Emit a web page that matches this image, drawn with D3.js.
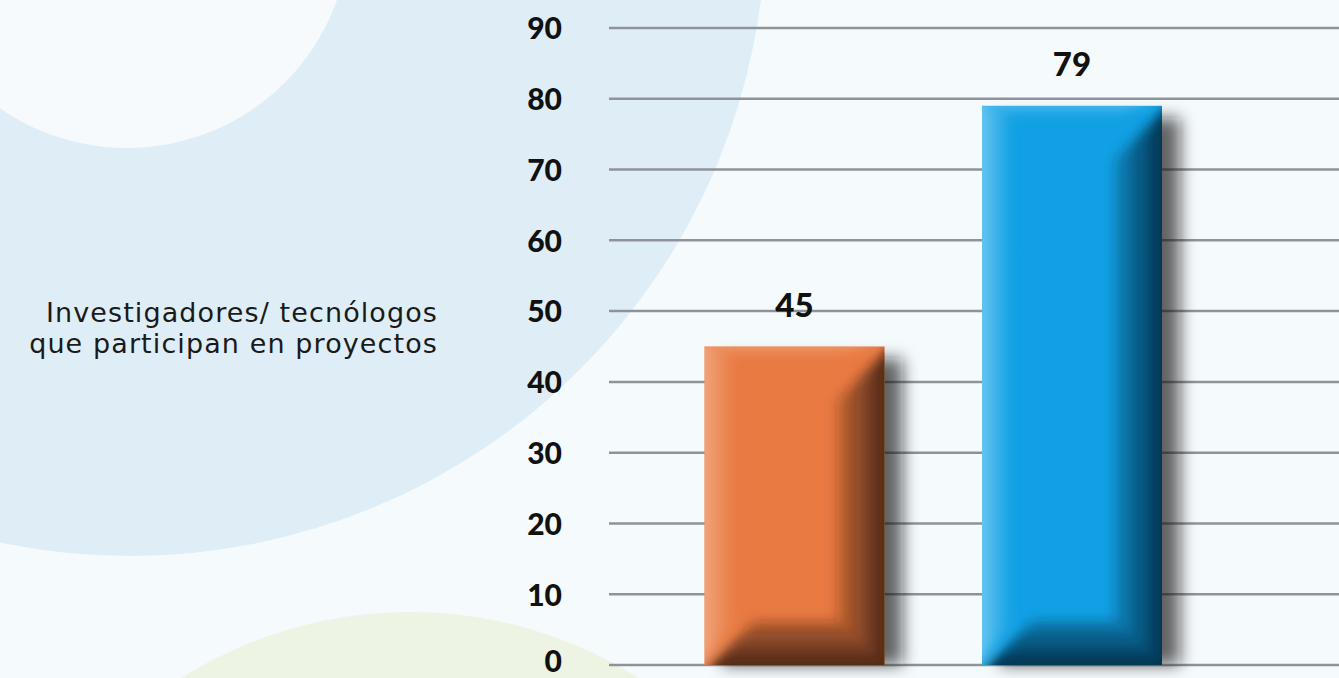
<!DOCTYPE html>
<html>
<head>
<meta charset="utf-8">
<script src="https://cdn.jsdelivr.net/npm/d3@7"></script>
<style>
  html, body { margin: 0; padding: 0; background: #f5fafd; overflow: hidden; }
  svg { display: block; }
</style>
</head>
<body>
<div id="chart"></div>
<script>
// chart data
const categories = ["Serie A", "Serie B"];
const values = [45, 79];
const tickValues = [0, 10, 20, 30, 40, 50, 60, 70, 80, 90];
const yLabelLines = ["Investigadores/ tecnólogos", "que participan en proyectos"];

// bar palettes: base, light edge, dark edge
const barColors = [
    { base: "#e87a42", light: "#f4b08a", dark: "#3a1d0e" },
    { base: "#10a0e3", light: "#7fd0f4", dark: "#05243a" }
];

const width = 1339;
const height = 678;

const svg = d3.select("#chart")
    .append("svg")
    .attr("width", width)
    .attr("height", height);

const defs = svg.append("defs");

// soft blur filters
defs.append("filter").attr("id", "blurShadow")
    .attr("x", "-50%").attr("y", "-20%").attr("width", "200%").attr("height", "140%")
    .append("feGaussianBlur").attr("stdDeviation", 8);
defs.append("filter").attr("id", "blurBevel")
    .attr("x", "-20%").attr("y", "-20%").attr("width", "140%").attr("height", "140%")
    .append("feGaussianBlur").attr("stdDeviation", 6);
defs.append("filter").attr("id", "blurGrid")
    .attr("x", "-5%").attr("y", "-200%").attr("width", "110%").attr("height", "500%")
    .append("feGaussianBlur").attr("stdDeviation", 4);

// Background shapes
const bg = svg.append("g");
bg.append("rect").attr("width", width).attr("height", height).attr("fill", "#f5fafd");
bg.append("circle").attr("cx", 130).attr("cy", -80).attr("r", 636).attr("fill", "#dfeef6");
bg.append("circle").attr("cx", 127).attr("cy", -75).attr("r", 223).attr("fill", "#f6fafd");
bg.append("circle").attr("cx", 410).attr("cy", 1042).attr("r", 430).attr("fill", "#edf4e4");

// Scales
const y = d3.scaleLinear().domain([0, 90]).range([665, 28]);
const x = d3.scalePoint().domain(categories).range([794.5, 1072]);
const barWidth = 180;

// Gridlines
const grid = svg.append("g");
grid.selectAll("line.shade")
    .data(tickValues)
    .enter().append("line")
    .attr("class", "shade")
    .attr("x1", 612).attr("x2", width)
    .attr("y1", d => y(d) - 6).attr("y2", d => y(d) - 6)
    .attr("stroke", "#000").attr("stroke-opacity", 0.06).attr("stroke-width", 8)
    .attr("filter", "url(#blurGrid)");
grid.selectAll("line.main")
    .data(tickValues)
    .enter().append("line")
    .attr("class", "main")
    .attr("x1", 609).attr("x2", width)
    .attr("y1", d => y(d)).attr("y2", d => y(d))
    .attr("stroke", "#8e9399").attr("stroke-width", 2.5);

// Tick labels through the axis
const axis = svg.append("g")
    .attr("transform", "translate(562,0)")
    .call(d3.axisLeft(y).tickValues(tickValues).tickSize(0).tickPadding(0));
axis.select(".domain").remove();
axis.selectAll("text")
    .attr("font-family", "Lato, 'Open Sans', sans-serif")
    .attr("font-weight", 900)
    .attr("font-size", 30)
    .attr("fill", "#111")
    .attr("dy", d => d === 0 ? "0.2em" : "0.36em");

// Bars
const bars = svg.append("g").selectAll("g")
    .data(values)
    .enter().append("g");

// gradients for each bar
values.forEach((v, i) => {
    const c = barColors[i];
    const gl = defs.append("linearGradient").attr("id", "gLeft" + i)
        .attr("x1", 0).attr("x2", 1).attr("y1", 0).attr("y2", 0);
    gl.append("stop").attr("offset", 0).attr("stop-color", c.light).attr("stop-opacity", 1);
    gl.append("stop").attr("offset", 1).attr("stop-color", c.light).attr("stop-opacity", 0);
    const gr = defs.append("linearGradient").attr("id", "gRight" + i)
        .attr("x1", 0).attr("x2", 1).attr("y1", 0).attr("y2", 0);
    gr.append("stop").attr("offset", 0).attr("stop-color", c.dark).attr("stop-opacity", 0.2);
    gr.append("stop").attr("offset", 1).attr("stop-color", c.dark).attr("stop-opacity", 1);
    const gb = defs.append("linearGradient").attr("id", "gBottom" + i)
        .attr("x1", 0).attr("x2", 0).attr("y1", 0).attr("y2", 1);
    gb.append("stop").attr("offset", 0).attr("stop-color", c.dark).attr("stop-opacity", 0.3);
    gb.append("stop").attr("offset", 1).attr("stop-color", c.dark).attr("stop-opacity", 1);
    const gt = defs.append("linearGradient").attr("id", "gTop" + i)
        .attr("x1", 0).attr("x2", 0).attr("y1", 0).attr("y2", 1);
    gt.append("stop").attr("offset", 0).attr("stop-color", c.light).attr("stop-opacity", 0.9);
    gt.append("stop").attr("offset", 1).attr("stop-color", c.light).attr("stop-opacity", 0);

    defs.append("clipPath").attr("id", "clip" + i)
        .append("rect")
        .attr("x", x(categories[i]) - barWidth / 2)
        .attr("y", y(v))
        .attr("width", barWidth)
        .attr("height", y(0) - y(v));
});

// drop shadow
bars.append("rect")
    .attr("x", (d, i) => x(categories[i]) - barWidth / 2 + 18)
    .attr("y", d => y(d) + 12)
    .attr("width", barWidth)
    .attr("height", d => y(0) - y(d) - 12)
    .attr("fill", "#151515")
    .attr("fill-opacity", 0.65)
    .attr("filter", "url(#blurShadow)");

bars.append("rect")
    .attr("x", (d, i) => x(categories[i]) - barWidth / 2)
    .attr("y", d => y(d))
    .attr("width", barWidth)
    .attr("height", d => y(0) - y(d))
    .attr("fill", (d, i) => barColors[i].base);

// bevels
bars.each(function(d, i) {
    const x0 = x(categories[i]) - barWidth / 2;
    const x1 = x0 + barWidth;
    const yt = y(d);
    const yb = y(0);
    const rw = 48, bw = 44, lw = 30, tw = 10;
    const g = d3.select(this).append("g").attr("clip-path", `url(#clip${i})`)
        .append("g").attr("filter", "url(#blurBevel)");
    const line = d3.line();
    g.append("path")
        .attr("d", line([[x0 - 10, yt - 10], [x0 + lw, yt + tw], [x0 + lw, yb - bw], [x0 - 10, yb + 10]]) + "Z")
        .attr("fill", `url(#gLeft${i})`);
    g.append("path")
        .attr("d", line([[x0, yt - 10], [x1, yt - 10], [x1 - rw, yt + tw], [x0 + lw, yt + tw]]) + "Z")
        .attr("fill", `url(#gTop${i})`);
    g.append("path")
        .attr("d", line([[x1 + 10, yt - 4], [x1 + 10, yb + 10], [x1 - rw, yb - bw], [x1 - rw, yt + rw * 1.15]]) + "Z")
        .attr("fill", `url(#gRight${i})`);
    g.append("path")
        .attr("d", line([[x0 - 4, yb + 10], [x1 + 10, yb + 10], [x1 - rw, yb - bw], [x0 + bw * 1.15, yb - bw]]) + "Z")
        .attr("fill", `url(#gBottom${i})`);
});

// value labels
bars.append("text")
    .attr("x", (d, i) => x(categories[i]))
    .attr("y", d => y(d) - 30)
    .attr("text-anchor", "middle")
    .attr("font-family", "Lato, 'Open Sans', sans-serif")
    .attr("font-weight", 900)
    .attr("font-size", 33)
    .attr("fill", "#111")
    .text(d => d);

// axis title on the left
svg.append("g").selectAll("text")
    .data(yLabelLines)
    .enter().append("text")
    .attr("x", 438)
    .attr("y", (d, i) => 322 + i * 31)
    .attr("text-anchor", "end")
    .attr("font-family", "'DejaVu Sans', sans-serif")
    .attr("font-size", 27)
    .attr("letter-spacing", 1.1)
    .attr("fill", "#1a1a1a")
    .text(d => d);
</script>
</body>
</html>
